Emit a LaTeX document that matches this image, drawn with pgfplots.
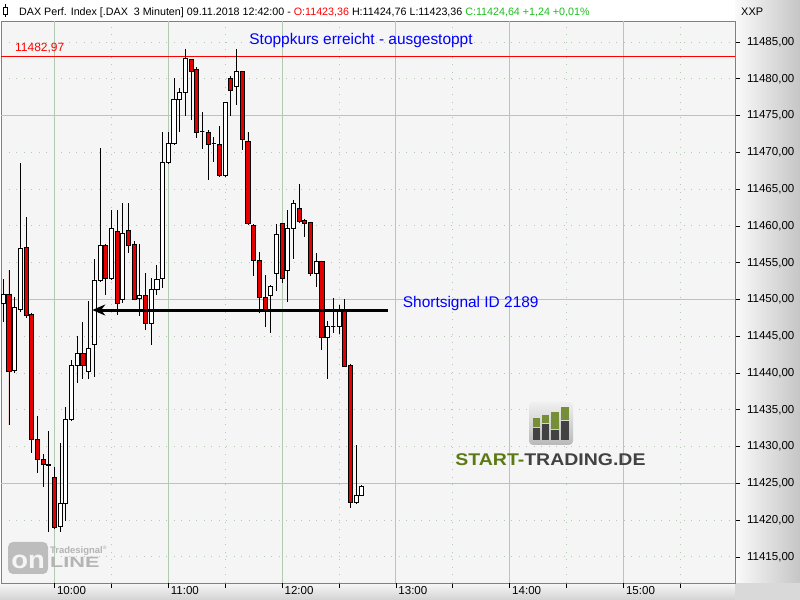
\documentclass[border=0pt]{standalone}
\usepackage{pgfplots}
\pgfplotsset{compat=1.18}
\usepackage{pgfplotstable}
\usepgfplotslibrary{statistics}
\usetikzlibrary{arrows.meta}
\usepackage{fontspec}
\setmainfont{Liberation Sans}

\definecolor{plotbg}{RGB}{245,245,245}
\definecolor{gridc}{RGB}{178,202,178}
\definecolor{candlered}{RGB}{228,0,0}
\definecolor{hdrgreen}{RGB}{30,190,30}
\definecolor{stgreen}{RGB}{92,122,20}
\definecolor{stgrey}{RGB}{66,66,66}
\definecolor{logogrey}{RGB}{180,180,180}

% 3-minute candles, t = bar index (0 = 10:00)
\pgfplotstableread{
t   o        h        l        c
-9  11449.5  11452.75 11447.0  11450.7
-8  11450.7  11454.0  11432.9  11440.2
-7  11440.3  11450.4  11440.0  11448.9
-6  11448.6  11468.5  11448.3  11457.0
-5  11457.1  11461.2  11447.5  11447.8
-4  11448.0  11448.2  11429.2  11431.0
-3  11431.0  11434.2  11426.4  11428.3
-2  11428.2  11429.0  11424.55 11427.6
-1  11427.6  11432.1  11418.4  11427.4
0   11425.8  11427.3  11418.8  11419.0
1   11419.1  11430.45 11418.4  11422.3
2   11422.3  11435.35 11419.9  11433.7
3   11433.7  11441.8  11433.5  11441.05
4   11441.05 11445.0  11438.7  11442.6
5   11442.6  11447.0  11439.2  11441.05
6   11440.2  11449.8  11439.2  11443.4
7   11443.9  11455.5  11439.4  11452.65
8   11452.65 11470.6  11452.4  11457.4
9   11457.4  11457.6  11450.6  11452.9
10  11452.9  11462.1  11452.7  11459.6
11  11459.3  11462.2  11447.9  11449.5
12  11450.0  11463.1  11449.5  11459.0
13  11459.35 11463.1  11456.3  11457.3
14  11457.5  11457.95 11449.9  11450.0
15  11450.1  11457.6  11447.7  11450.5
16  11450.6  11453.6  11445.8  11446.8
17  11446.8  11452.9  11443.8  11451.4
18  11451.3  11454.65 11450.6  11452.75
19  11452.8  11472.8  11451.5  11468.6
20  11468.6  11472.7  11468.4  11471.2
21  11471.2  11480.1  11471.0  11477.2
22  11477.2  11478.7  11472.8  11478.2
23  11478.2  11484.0  11475.0  11482.7
24  11482.6  11482.7  11474.4  11481.0
25  11481.3  11481.6  11472.0  11472.7
26  11472.8  11475.5  11470.4  11472.8
27  11472.7  11473.0  11466.3  11471.1
28  11471.2  11472.1  11468.7  11471.2
29  11471.1  11473.6  11466.7  11466.8
30  11466.8  11476.9  11466.7  11476.8
31  11480.1  11480.4  11474.9  11478.4
32  11478.9  11484.0  11476.4  11481.0
33  11481.0  11481.1  11470.3  11471.7
34  11471.5  11472.8  11460.2  11460.3
35  11460.1  11460.2  11453.2  11455.3
36  11455.3  11456.5  11448.1  11450.3
37  11450.3  11453.3  11446.3  11448.7
38  11450.5  11452.0  11445.4  11451.8
39  11453.6  11460.3  11451.2  11458.8
40  11460.3  11460.4  11452.3  11452.9
41  11454.0  11462.2  11449.6  11459.7
42  11459.7  11463.5  11455.5  11463.0
43  11462.4  11465.7  11460.5  11460.6
44  11460.7  11461.0  11458.5  11460.4
45  11460.5  11460.6  11453.2  11453.6
46  11453.6  11456.3  11451.7  11455.2
47  11455.2  11455.3  11443.1  11444.8
48  11444.8  11447.1  11439.2  11446.4
49  11446.4  11450.25 11445.4  11446.4
50  11446.4  11449.2  11445.3  11448.5
51  11448.5  11450.1  11440.8  11440.9
52  11441.0  11441.3  11421.6  11422.4
53  11422.4  11430.2  11422.3  11423.4
54  11423.36 11424.76 11423.36 11424.64
}\candles

\begin{document}
\begin{tikzpicture}
\path[use as bounding box] (0,0) rectangle (800bp,600bp);

% frame panels
\begin{scope}[x=1bp,y=1bp]
  \shade[left color=white!96!gray, right color=gray!45] (735,17) rectangle (800,600);
  \shade[top color=white!94!gray, bottom color=gray!35] (0,0) rectangle (735,17);
  \fill[gray!30] (735,0) rectangle (800,17);
  \fill[white] (0,579) rectangle (735,600);
\end{scope}

\begin{axis}[
  at={(1bp,17bp)}, anchor=south west,
  scale only axis, width=734bp, height=562bp,
  xmin=-9.402, xmax=119.596,
  ymin=11411.465, ymax=11487.854,
  axis background/.style={fill=plotbg},
  axis line style={draw=gray, line width=0.8bp},
  tick label style={font=\fontsize{11.6}{13}\selectfont},
  tick align=outside, tick style={black, line width=0.8bp},
  major tick length=5bp, minor tick length=3bp,
  xtick pos=bottom, ytick pos=right, yticklabel pos=right,
  xtick={10,30,50,70,90,110}, xticklabels={},
  extra x ticks={0,20,40,60,80,100},
  extra x tick labels={10:00,11:00,12:00,13:00,14:00,15:00},
  extra x tick style={grid=major, major grid style={solid, gridc, line width=1bp},
    xticklabel style={anchor=north west, xshift=-1bp, yshift=5bp}},
  ytick={11415,11420,...,11485}, minor y tick num=4,
  scaled y ticks=false,
  yticklabel style={anchor=west, xshift=3.5bp,
    /pgf/number format/.cd, fixed, fixed zerofill, precision=2, use comma, 1000 sep={}},
  /pgf/number format/assume math mode=true,
  extra y ticks={11425,11450,11475}, extra y tick labels={},
  extra y tick style={grid=major, major grid style={solid, gridc, line width=1bp}, major tick length=0pt},
  xmajorgrids, ymajorgrids,
  major grid style={gridc, line width=1bp, dash pattern=on 1.2bp off 6.3bp},
  boxplot/draw direction=y,
  clip=true,
]

% stop level
\addplot[red, line width=1bp] coordinates {(-20,11482.97) (130,11482.97)};

% candles
\pgfplotstablegetrowsof{\candles}
\pgfmathtruncatemacro{\ncand}{\pgfplotsretval-1}
\pgfplotsinvokeforeach{0,...,\ncand}{%
  \pgfplotstablegetelem{#1}{t}\of\candles\let\cndT\pgfplotsretval
  \pgfplotstablegetelem{#1}{o}\of\candles\let\cndO\pgfplotsretval
  \pgfplotstablegetelem{#1}{h}\of\candles\let\cndH\pgfplotsretval
  \pgfplotstablegetelem{#1}{l}\of\candles\let\cndL\pgfplotsretval
  \pgfplotstablegetelem{#1}{c}\of\candles\let\cndC\pgfplotsretval
  \pgfmathsetmacro\cndLo{min(\cndO,\cndC)}%
  \pgfmathsetmacro\cndHi{max(\cndO,\cndC)}%
  \pgfmathtruncatemacro\cndDn{\cndC<\cndO}%
  \ifnum\cndDn=1 \def\cndF{candlered}\else\def\cndF{white}\fi
  \edef\cndPlot{\noexpand\addplot[draw=black, fill=\cndF, line width=0.9bp,
    boxplot prepared={draw position=\cndT, lower whisker=\cndL,
      lower quartile=\cndLo, median=\cndHi, upper quartile=\cndHi,
      upper whisker=\cndH, box extend=0.72, whisker extend=0}] coordinates {};}%
  \cndPlot
}

% short signal arrow
\addplot[black, line width=3bp, -{Stealth[length=13bp,width=11bp]}]
  coordinates {(58.6,11448.57) (6.64,11448.57)};

\node[red, anchor=west, inner sep=0, font=\fontsize{12}{14}\selectfont]
  at (axis cs:-6.94,11484.18) {11482,97};
\node[blue, inner sep=0, font=\fontsize{15.5}{18}\selectfont]
  at (axis cs:53.87,11485.27) {Stoppkurs erreicht - ausgestoppt};
\node[blue, anchor=west, inner sep=0, font=\fontsize{15.5}{18}\selectfont]
  at (axis cs:61.2,11449.39) {Shortsignal ID 2189};
\end{axis}

\begin{scope}[x=1bp,y=1bp]
  % header
  \draw[black, line width=0.8bp] (5.5,596) -- (5.5,583);
  \draw[black, fill=white, line width=0.8bp] (3.5,593) rectangle (7.5,586);
  \node[anchor=base west, inner sep=0, font=\fontsize{10.75}{13}\selectfont] at (19,584.5)
    {DAX Perf. Index [.DAX\ \ 3 Minuten] 09.11.2018 12:42:00 - \textcolor{red}{O:11423,36} H:11424,76 L:11423,36 \textcolor{hdrgreen}{C:11424,64 +1,24 +0,01\%}};
  \node[anchor=base west, inner sep=0, font=\fontsize{11}{13}\selectfont] at (741,584.5) {XXP};

  % Tradesignal online watermark
  \fill[logogrey, rounded corners=5bp, opacity=0.85] (8,58) rectangle (48,26);
  \node[plotbg, anchor=base, inner sep=0, font=\bfseries\fontsize{25}{25}\selectfont] at (28,32)
    {\scalebox{1.1}[1]{on}};
  \node[logogrey, anchor=base west, inner sep=0] at (50,33)
    {\scalebox{1.45}[1]{\bfseries\fontsize{15}{15}\selectfont LINE}};
  \node[logogrey, anchor=base west, inner sep=0, font=\bfseries\fontsize{9.5}{10}\selectfont] at (50,47)
    {Tradesignal\textsuperscript{\tiny ®}};

  % START-TRADING.DE logo
  \shade[top color=gray!12, bottom color=gray!55, rounded corners=4bp] (529,198) rectangle (573,155);
  \fill[stgreen!85!white] (532.7,181.7) rectangle (540,173.3);
  \fill[stgreen!85!white] (542,185) rectangle (549.3,177);
  \fill[stgreen!85!white] (551.3,188.3) rectangle (558.7,171);
  \fill[stgreen!85!white] (560.7,193.3) rectangle (569.3,180);
  \fill[stgrey] (532.7,172.3) rectangle (540,160);
  \fill[stgrey] (542,176) rectangle (549.3,160);
  \fill[stgrey] (551.3,170) rectangle (558.7,160);
  \fill[stgrey] (560.7,179) rectangle (569.3,160);
  \node[anchor=base, inner sep=0, font=\bfseries\fontsize{17}{17}\selectfont] at (550.5,134.5)
    {\scalebox{1.15}[1]{\textcolor{stgreen}{START-}\textcolor{stgrey}{TRADING.DE}}};
\end{scope}
\end{tikzpicture}
\end{document}
